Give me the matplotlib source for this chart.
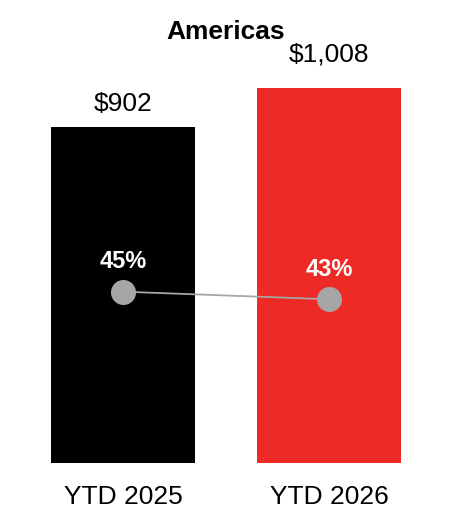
import matplotlib.pyplot as plt

plt.rcParams['font.family'] = ['Liberation Sans', 'DejaVu Sans']

# data
categories = ['YTD 2025', 'YTD 2026']
revenue = [902, 1008]
revenue_labels = ['$902', '$1,008']
margin = [0.45, 0.43]
margin_labels = ['45%', '43%']
bar_colors = ['#000000', '#ee2a27']

fig = plt.figure(figsize=(4.52, 5.32), dpi=100)
ax = fig.add_axes([0.0442, 0.1297, 0.9115, 0.7049])

x = list(range(len(categories)))
ax.bar(x, revenue, width=0.70, color=bar_colors)
ax.set_xlim(-0.5, 1.5)
ax.set_ylim(0, 1008)
ax.set_xticks(x)
ax.set_xticklabels(categories, fontsize=19)
ax.tick_params(axis='x', length=0, pad=16)
ax.set_yticks([])
for s in ax.spines.values():
    s.set_visible(False)

# value labels above the bars
offsets = [11.7, 18.9]
for i, v in enumerate(revenue):
    ax.annotate(revenue_labels[i], (x[i], v), xytext=(0, offsets[i]),
                textcoords='offset points', ha='center', va='baseline',
                fontsize=19, annotation_clip=False)

# margin line on a second axis
ax2 = ax.twinx()
ax2.set_ylim(0, 0.985)
ax2.plot(x, margin, color='#a6a6a6', lw=1.3, marker='o', markersize=17,
         markerfacecolor='#a6a6a6', markeredgecolor='#a6a6a6', clip_on=False)
for i, m in enumerate(margin):
    ax2.annotate(margin_labels[i], (x[i], m), xytext=(0, 17),
                 textcoords='offset points', ha='center', va='baseline',
                 fontsize=17, fontweight='bold', color='white')
ax2.set_yticks([])
for s in ax2.spines.values():
    s.set_visible(False)

fig.text(0.5, 0.9261, 'Americas', ha='center', va='baseline',
         fontsize=19, fontweight='bold')

fig.savefig('out.png', dpi=100)
